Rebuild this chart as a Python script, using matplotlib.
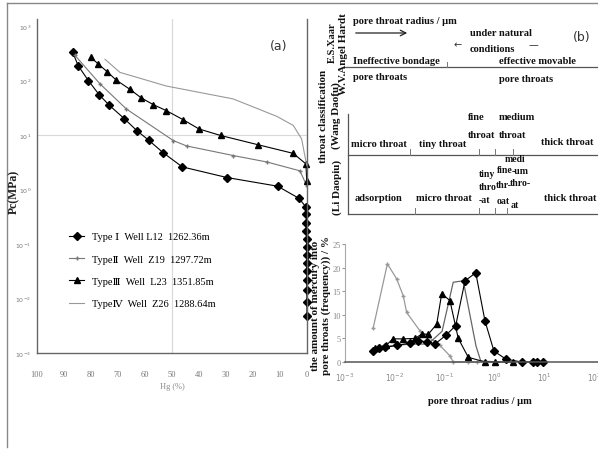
import numpy as np
import matplotlib.pyplot as plt
from matplotlib.ticker import FixedLocator, NullLocator

W, H = 598, 452
SERIF = ['Liberation Serif', 'DejaVu Serif', 'DejaVu Sans']

# ---- (a) capillary pressure curves: Hg saturation (%) vs Pc (MPa)
type1_hg = [86.8, 84.7, 81.0, 77.0, 73.2, 67.7, 63.0, 58.6, 53.2, 46.2, 29.7, 10.9, 3.0, 0.3,
            0.25, 0.22, 0.2, 0.18, 0.16, 0.14, 0.12, 0.1, 0.08, 0.06, 0.04, 0.02]
type1_pc = [330, 185, 100, 55, 35, 20, 12, 8.0, 4.7, 2.6, 1.66, 1.15, 0.69, 0.47,
            0.355, 0.245, 0.174, 0.123, 0.087, 0.063, 0.045, 0.032, 0.022, 0.0145, 0.0087, 0.0048]
type2_hg = [85.9, 76.7, 66.9, 49.5, 44.6, 27.3, 14.9, 2.6, 0.1]
type2_pc = [288, 87, 30, 7.9, 6.3, 4.2, 3.2, 2.2, 1.17]
type3_hg = [80.1, 77.3, 74.0, 70.7, 65.6, 61.4, 56.9, 52.1, 45.8, 40.0, 32.0, 18.0, 5.1, 0.4, 0.1]
type3_pc = [269, 200, 145, 102, 69, 48, 36, 28, 19, 12.9, 9.8, 6.6, 4.6, 2.95, 1.45]
type4_hg = [74.8, 69.3, 52.0, 27.4, 11.2, 5.1, 2.0, 0.1]
type4_pc = [245, 141, 79, 46, 22, 15, 8.5, 2.75]

legend_labels = ['Type Ⅰ  Well L12  1262.36m',
                 'TypeⅡ  Well  Z19  1297.72m',
                 'TypeⅢ  Well  L23  1351.85m',
                 'TypeⅣ  Well  Z26  1288.64m']

# ---- (b) frequency of pore throat radius (um) vs amount of mercury (%)
type1_r = [0.0036, 0.0049, 0.0064, 0.0109, 0.0202, 0.0297, 0.0438, 0.0641, 0.107, 0.167,
           0.257, 0.422, 0.647, 0.98, 1.71, 3.53, 6.04, 7.06, 9.33]
type1_f = [2.4, 2.9, 3.1, 3.5, 4.0, 4.5, 4.3, 3.8, 5.7, 7.7, 17.2, 18.9, 8.7, 2.3, 0.6, 0, 0, 0, 0]
type2_r = [0.0035, 0.0080, 0.0202, 0.0465, 0.089, 0.149, 0.237, 0.325, 0.427, 0.532, 1.29]
type2_f = [2.3, 3.4, 3.8, 3.8, 6.5, 16.9, 17.2, 9.8, 3.4, 0.2, 0]
type3_r = [0.0040, 0.0067, 0.0091, 0.0148, 0.0255, 0.0347, 0.0471, 0.0694, 0.0875, 0.128,
           0.188, 0.299, 0.647, 1.03, 2.40]
type3_f = [3.0, 3.5, 4.9, 4.9, 5.0, 5.9, 5.9, 8.0, 14.5, 13.0, 5.0, 1.0, 0, 0, 0]
type4_r = [0.0037, 0.0071, 0.0109, 0.0148, 0.0173, 0.0320, 0.081, 0.128, 0.149, 0.295, 0.446]
type4_f = [7.3, 20.8, 17.6, 14.0, 10.5, 6.6, 3.5, 1.3, 0, 0, 0]

# throat classification labels (text, left x, centre y in pixels)
row1_texts = [('Ineffective bondage', 353, 61), ('pore throats', 353, 78),
              ('effective movable', 499, 62), ('pore throats', 499, 79)]
row2_texts = [('micro throat', 351, 145), ('tiny throat', 419, 145), ('fine', 468, 118),
              ('throat', 468, 136), ('medium', 499, 118), ('throat', 499, 136),
              ('thick throat', 541, 143)]
row3_texts = [('adsorption', 355, 199), ('micro throat', 416, 199),
              ('tiny', 479, 175), ('thro', 479, 188), ('-at', 479, 201),
              ('fine', 497, 171), ('thr-', 496, 186), ('oat', 497, 202),
              ('medi', 505, 160), ('-um', 512, 172), ('thro-', 510, 184), ('at', 511, 206),
              ('thick throat', 544, 199)]
row2_ticks = [410, 479, 495, 513]
row3_ticks = [415, 479, 495, 507]

fig = plt.figure(figsize=(W / 100, H / 100), dpi=100)
fig.patch.set_facecolor('white')

# overlay in pixel units for frame and table
ov = fig.add_axes([0, 0, 1, 1], zorder=0)
ov.set_xlim(0, W)
ov.set_ylim(H, 0)
ov.axis('off')
ov.plot([7, W], [4, 4], color='#888', lw=1)
ov.plot([7, 7], [4, 448], color='#888', lw=1)

# ---------------- panel (a)
ax = fig.add_axes([37 / W, 1 - 354 / H, 270 / W, 334 / H], zorder=2)
ax.patch.set_alpha(0)
ax.set_yscale('log')
ax.set_ylim(1e-3, 10 ** (3 + 7 / 54.5))
ax.set_xlim(100, 0)
ax.axhline(10, color='#d8d8d8', lw=0.8, zorder=0)
ax.axvline(50, color='#d8d8d8', lw=0.8, zorder=0)

ax.plot(type1_hg, type1_pc, color='k', lw=0.8, marker='D', ms=4, clip_on=False, label=legend_labels[0])
ax.plot(type2_hg, type2_pc, color='#777', lw=0.8, marker='+', ms=3, label=legend_labels[1])
ax.plot(type3_hg, type3_pc, color='k', lw=0.8, marker='^', ms=5, clip_on=False, label=legend_labels[2])
ax.plot(type4_hg, type4_pc, color='#999', lw=0.8, label=legend_labels[3])

ax.yaxis.set_major_locator(FixedLocator([1e-3, 1e-2, 1e-1, 1, 10, 100, 1000]))
ax.yaxis.set_minor_locator(NullLocator())
ax.set_xticks(np.arange(0, 101, 10))
ax.tick_params(axis='y', length=0, pad=4, labelsize=4.5, labelcolor='#777')
ax.tick_params(axis='x', length=0, pad=12, labelsize=6, labelcolor='#777')
for lab in ax.get_xticklabels():
    lab.set_family(SERIF)
ax.spines['top'].set_visible(False)
for s in ('left', 'bottom', 'right'):
    ax.spines[s].set_color('#666')
    ax.spines[s].set_linewidth(1)
ax.set_xlabel('Hg (%)', fontsize=6, color='#888', family=SERIF, labelpad=3)

ax.text(0.895, 0.92, '(a)', transform=ax.transAxes, fontsize=9, color='#333',
        ha='center', va='center')
fig.text(14 / W, 1 - 192 / H, 'Pc(MPa)', rotation=90, fontsize=8.5, fontweight='bold',
         family=SERIF, ha='center', va='center', color='#222')

leg = ax.legend(loc='upper left', bbox_to_anchor=(64 / W, 1 - 228 / H),
                bbox_transform=fig.transFigure, frameon=False, borderpad=0,
                handlelength=1.4, handletextpad=0.8, labelspacing=1.25,
                prop={'family': SERIF, 'size': 7.5})

# ---------------- panel (b) frequency curves
bx = fig.add_axes([345 / W, 1 - 363 / H, (W - 345) / W, 118 / H], zorder=2)
bx.patch.set_alpha(0)
bx.set_xscale('log')
bx.set_xlim(1e-3, 10 ** (-3 + 253 / 49.8))
bx.set_ylim(0, 25)
bx.plot(type4_r, type4_f, color='#999', lw=0.9, marker='+', ms=3, clip_on=False)
bx.plot(type2_r, type2_f, color='#666', lw=0.9, clip_on=False)
bx.plot(type3_r, type3_f, color='k', lw=0.8, marker='^', ms=5, clip_on=False)
bx.plot(type1_r, type1_f, color='k', lw=0.8, marker='D', ms=4, clip_on=False)
bx.xaxis.set_major_locator(FixedLocator([1e-3, 1e-2, 1e-1, 1, 10, 100]))
bx.xaxis.set_minor_locator(NullLocator())
bx.set_yticks([0, 5, 10, 15, 20, 25])
bx.tick_params(axis='y', length=2, pad=1, labelsize=6, labelcolor='#888', color='#999')
bx.tick_params(axis='x', length=0, pad=6, labelsize=5.5, labelcolor='#888')
for lab in bx.get_yticklabels():
    lab.set_family(SERIF)
bx.spines['top'].set_visible(False)
bx.spines['right'].set_visible(False)
bx.spines['left'].set_color('#aaa')
bx.spines['bottom'].set_color('#555')
bx.spines['bottom'].set_linewidth(1.1)

bold = dict(family=SERIF, fontweight='bold', fontsize=7.5, color='#111')
big = dict(bold, fontsize=8)
ov.text(480, 402, 'pore throat radius / μm', ha='center', va='center', **bold)
ov.text(321, 306, 'the amount of mercury into\npore throats (frequency)) / %', rotation=90,
        ha='center', va='center', linespacing=1.15, **big)

# ---------------- classification table
ov.text(323, 116, 'throat classification', rotation=90, ha='center', va='center', **big)
ov.text(332, 22, 'E.S.Xaar', rotation=90, ha='center', va='top', **bold)
ov.text(336, 116, '(Wang Daofu)', rotation=90, ha='center', va='center', **big)
ov.text(343, 13, 'W.V.Angel Hardt', rotation=90, ha='center', va='top', **big)
ov.text(337, 187, '(Li Daopiu)', rotation=90, ha='center', va='center', **big)

ov.text(353, 22, 'pore throat radius / μm', ha='left', va='center', **bold)
ov.annotate('', xy=(410, 34), xytext=(353, 34),
            arrowprops=dict(arrowstyle='->', color='#222', lw=0.9))
ov.text(470, 33, 'under natural', ha='left', va='center', **bold)
ov.text(470, 49, 'conditions', ha='left', va='center', **bold)
ov.text(458, 45, '←', ha='center', va='center', fontsize=7, color='#333')
ov.text(533, 45, '—', ha='center', va='center', fontsize=7, color='#333')
ov.text(582, 38, '(b)', ha='center', va='center', fontsize=9, color='#333')

line_kw = dict(color='#555', lw=0.9)
ov.plot([345, W], [68, 68], **line_kw)
ov.plot([447, 447], [63, 68], color='#777', lw=0.7)
ov.plot([348, W], [156, 156], **line_kw)
ov.plot([348, W], [215, 215], **line_kw)
ov.plot([348, 348], [115, 215], **line_kw)
for x in row2_ticks:
    ov.plot([x, x], [150, 156], color='#777', lw=0.7)
for x in row3_ticks:
    ov.plot([x, x], [209, 215], color='#777', lw=0.7)
for txt, x, y in row1_texts + row2_texts:
    ov.text(x, y, txt, ha='left', va='center', **bold)
for txt, x, y in row3_texts:
    small = dict(bold, fontsize=7 if x > 470 and x < 540 else 7.5)
    ov.text(x, y, txt, ha='left', va='center', **small)

fig.savefig('out.png', dpi=100)
